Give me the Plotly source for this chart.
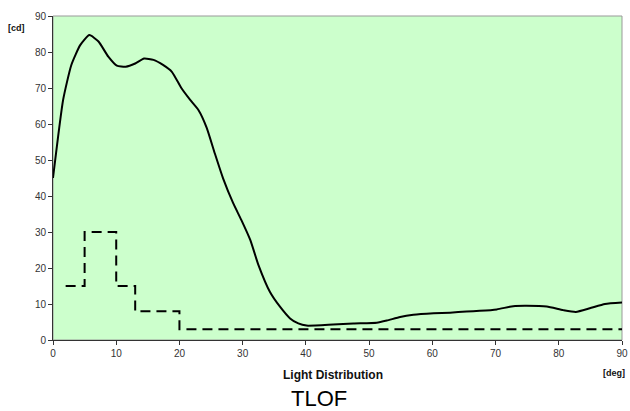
import plotly.graph_objects as go

# Measured curve (deg, cd)
angle_deg = [0, 1.6, 2.9, 4.3, 5.75, 7.2, 8.75, 10.1, 11.5, 13.0, 14.4, 15.9, 17.4, 18.8, 20.3,
             21.7, 23.0, 24.3, 25.6, 26.9, 28.5, 29.8, 31.2, 32.5, 34.3, 35.9, 37.5, 38.8, 40.1,
             44.3, 47.5, 51.2, 52.8, 54.9, 57.0, 60.2, 62.8, 65.4, 67.5, 70.2, 72.8, 74.9, 78.1,
             80.7, 82.7, 84.9, 87.3, 90.0]
intensity_cd = [45, 66.7, 76.4, 81.9, 84.7, 82.9, 78.7, 76.2, 75.9, 76.8, 78.2, 77.8, 76.4, 74.5, 70.0,
                66.7, 63.9, 59.0, 51.8, 44.9, 38.0, 33.3, 27.8, 20.8, 13.4, 9.25, 6.0, 4.6, 4.0,
                4.3, 4.6, 4.8, 5.4, 6.4, 7.0, 7.4, 7.6, 7.9, 8.1, 8.5, 9.4, 9.5, 9.3,
                8.3, 7.8, 8.8, 10.0, 10.4]

# Minimum requirement (step)
req_deg = [2, 5, 5, 10, 10, 13, 13, 20, 20, 90]
req_cd = [15, 15, 30, 30, 15, 15, 8, 8, 3, 3]

x_ticks = [0, 10, 20, 30, 40, 50, 60, 70, 80, 90]
y_ticks = [0, 10, 20, 30, 40, 50, 60, 70, 80, 90]

fig = go.Figure()
fig.add_trace(go.Scatter(x=angle_deg, y=intensity_cd, mode="lines",
                         line=dict(color="black", width=2, shape="spline", smoothing=0.5),
                         hoverinfo="skip", cliponaxis=False))
fig.add_trace(go.Scatter(x=req_deg, y=req_cd, mode="lines",
                         line=dict(color="black", width=2, dash="10px,6px"),
                         hoverinfo="skip"))

axis_font = dict(family="Liberation Sans, Arial, sans-serif", size=10, color="#333333")
lbl = "Liberation Sans, Arial, sans-serif"
fig.update_layout(
    width=630, height=411,
    margin=dict(l=53, r=8, t=16, b=71),
    paper_bgcolor="white",
    plot_bgcolor="#CCFFCC",
    showlegend=False,
    xaxis=dict(range=[0, 90], tickvals=x_ticks, ticks="outside", ticklen=4, tickcolor="#333333",
               showgrid=False, zeroline=False, showline=True, linecolor="#333333", linewidth=1,
               tickfont=axis_font, automargin=False),
    yaxis=dict(range=[0, 90], tickvals=y_ticks, ticks="outside", ticklen=4, tickcolor="#333333",
               showgrid=False, zeroline=False, showline=True, linecolor="#333333", linewidth=1,
               tickfont=axis_font, automargin=False),
    shapes=[dict(type="rect", xref="paper", yref="paper", x0=0, y0=0, x1=1, y1=1,
                 line=dict(color="#999999", width=1), layer="below")],
    annotations=[
        dict(text="<b>[cd]</b>", xref="paper", yref="paper", x=-0.0633, y=0.963,
             xanchor="center", yanchor="middle",
             showarrow=False, font=dict(family=lbl, size=9, color="#111111")),
        dict(text="<b>Light Distribution</b>", xref="paper", yref="paper", x=0.492, y=-0.108,
             xanchor="center", yanchor="middle",
             showarrow=False, font=dict(family=lbl, size=12, color="#111111")),
        dict(text="<b>[deg]</b>", xref="paper", yref="paper", x=0.986, y=-0.102,
             xanchor="center", yanchor="middle",
             showarrow=False, font=dict(family=lbl, size=9, color="#111111")),
        dict(text="TLOF", xref="paper", yref="paper", x=0.468, y=-0.181,
             xanchor="center", yanchor="middle",
             showarrow=False, font=dict(family=lbl, size=22, color="black")),
    ],
)

fig.write_html("out.html",
               config={"displayModeBar": False, "staticPlot": True},
               post_script="document.body.style.margin='0';document.documentElement.style.overflow='hidden';")
